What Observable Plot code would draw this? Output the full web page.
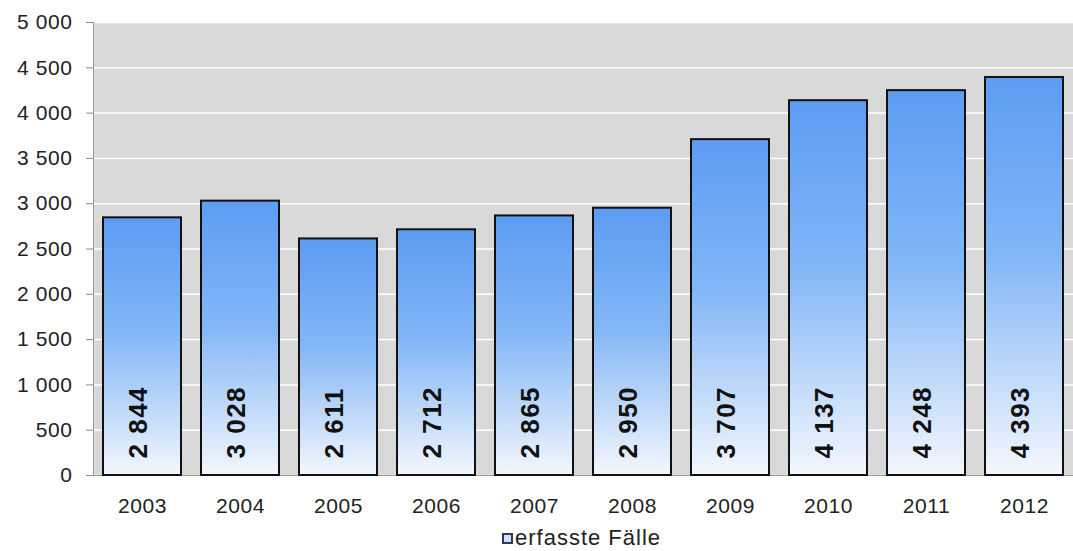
<!DOCTYPE html>
<html>
<head>
<meta charset="utf-8">
<script src="https://cdn.jsdelivr.net/npm/d3@7"></script>
<script src="https://cdn.jsdelivr.net/npm/@observablehq/plot@0.6"></script>
<style>
  body { margin: 0; background: #fff; font-family: "Liberation Sans", Arial, sans-serif; }
  #legend { height: 26px; display: flex; justify-content: center; align-items: center; font-size: 22px; letter-spacing: 1px; color: #222; padding-left: 90px; margin-top: 2px; }
  #legend .sw { width: 7px; height: 7px; border: 2px solid #2b3a55; background: #cfe2fb; margin-right: 2px; }
</style>
</head>
<body>
<div id="chart"></div>
<div id="legend"><span class="sw"></span><span>erfasste Fälle</span></div>
<script>
// Recorded cases per year
const years = ["2003", "2004", "2005", "2006", "2007", "2008", "2009", "2010", "2011", "2012"];
const cases = [2844, 3028, 2611, 2712, 2865, 2950, 3707, 4137, 4248, 4393];
const yTicks = [0, 500, 1000, 1500, 2000, 2500, 3000, 3500, 4000, 4500, 5000];

const data = years.map((year, i) => ({year, value: cases[i]}));
// thousands grouped with a space: 2 844
const fmt = v => d3.format(",")(v).replace(/,/g, " ");

const chart = Plot.plot({
  width: 1073,
  height: 523,
  marginLeft: 93,
  marginRight: 0,
  marginTop: 22,
  marginBottom: 48,
  style: {fontFamily: "'Liberation Sans', Arial, sans-serif", fontSize: "21px", letterSpacing: "0.6px", color: "#222", background: "#fff"},
  x: {domain: years, paddingInner: 0.2, paddingOuter: 0.1, label: null},
  y: {domain: [0, 5000], label: null},
  marks: [
    Plot.frame({fill: "#d9d9d9", stroke: null}),
    Plot.gridY(yTicks, {stroke: "#fff", strokeOpacity: 1, strokeWidth: 1.5}),
    Plot.frame({anchor: "left", stroke: "#9a9a9a"}),
    Plot.ruleY([0], {stroke: "#9a9a9a"}),
    Plot.axisY(yTicks, {tickFormat: fmt, tickSize: 7, tickPadding: 14, stroke: "#8a8a8a", label: null}),
    Plot.axisX({tickSize: 0, tickPadding: 23, label: null}),
    Plot.barY(data, {x: "year", y: "value", fill: "url(#barGrad)", stroke: "#111", strokeWidth: 2}),
    Plot.text(data, {
      x: "year",
      text: d => fmt(d.value),
      frameAnchor: "bottom",
      dx: 4,
      dy: -17,
      rotate: -90,
      textAnchor: "start",
      fontWeight: "bold",
      fontSize: 26,
      fill: "#111"
    })
  ]
});

// Vertical blue-to-white gradient applied per bar
const svg = d3.select(chart);
const defs = svg.insert("defs", ":first-child");
const grad = defs.append("linearGradient").attr("id", "barGrad")
  .attr("x1", 0).attr("y1", 0).attr("x2", 0).attr("y2", 1);
grad.append("stop").attr("offset", "0%").attr("stop-color", "#5c9cf2");
grad.append("stop").attr("offset", "45%").attr("stop-color", "#82b6f6");
grad.append("stop").attr("offset", "100%").attr("stop-color", "#f3f7fd");
svg.selectAll("g[font-weight=bold] text").style("letter-spacing", "1.5px");

document.getElementById("chart").appendChild(chart);
</script>
</body>
</html>
